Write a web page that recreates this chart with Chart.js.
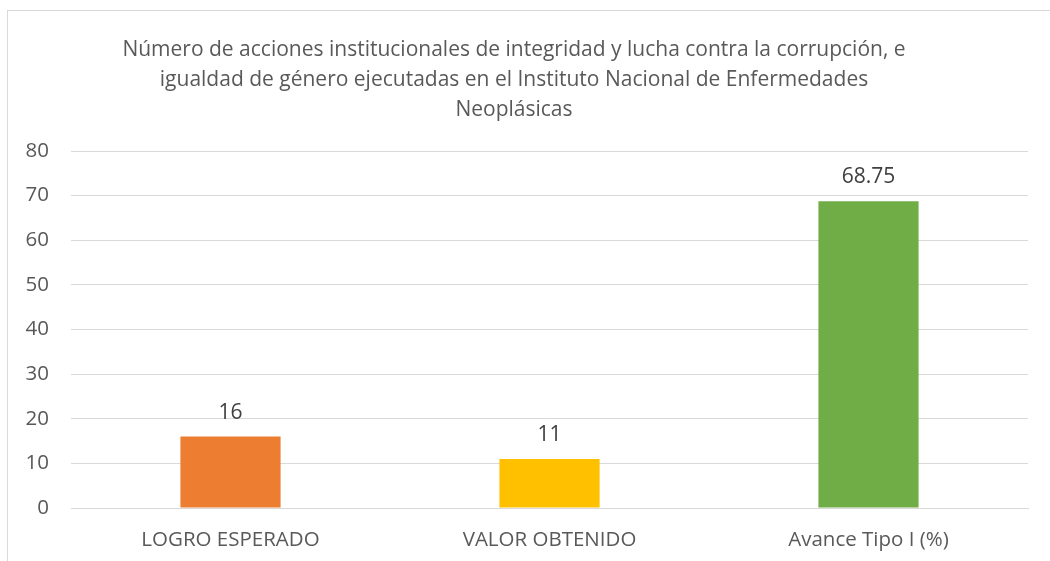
<!DOCTYPE html>
<html lang="es">
<head>
    <meta charset="UTF-8">
    <title>Acciones institucionales</title>
    <script src="https://cdn.jsdelivr.net/npm/chart.js"></script>
    <style>
        body { margin: 0; background: #fff; overflow: hidden; }
        #wrap { position: relative; width: 1050px; height: 561px; }
        #frame { position: absolute; left: 7px; top: 10px; width: 1100px; height: 600px; border: 1px solid #d9d9d9; box-sizing: border-box; }
        canvas { position: absolute; left: 0; top: 0; }
    </style>
</head>
<body>
    <div id="wrap">
        <div id="frame"></div>
        <canvas id="barChart" width="1050" height="561"></canvas>
    </div>

    <script>
        // Data
        const categories = ['LOGRO ESPERADO', 'VALOR OBTENIDO', 'Avance Tipo I (%)'];
        const values = [16, 11, 68.75];
        const barColors = ['#ED7D31', '#FFC000', '#70AD47'];
        const yTicks = [0, 10, 20, 30, 40, 50, 60, 70, 80];
        const titleLines = [
            'Número de acciones institucionales de integridad y lucha contra la corrupción, e',
            'igualdad de género ejecutadas en el Instituto Nacional de Enfermedades',
            'Neoplásicas'
        ];

        const fontFamily = '"Open Sans", sans-serif';

        // value labels above each bar
        const valueLabels = {
            id: 'valueLabels',
            afterDatasetsDraw(chart) {
                const ctx = chart.ctx;
                const meta = chart.getDatasetMeta(0);
                ctx.save();
                ctx.font = '21px ' + fontFamily;
                ctx.fillStyle = '#404040';
                ctx.textAlign = 'center';
                ctx.textBaseline = 'middle';
                meta.data.forEach((bar, i) => {
                    ctx.fillText(String(values[i]), bar.x, bar.y - 24);
                });
                ctx.restore();
            }
        };

        const ctx = document.getElementById('barChart').getContext('2d');
        const chart = new Chart(ctx, {
            type: 'bar',
            data: {
                labels: categories,
                datasets: [{
                    data: values,
                    backgroundColor: barColors,
                    barPercentage: 0.5,
                    categoryPercentage: 0.628
                }]
            },
            options: {
                responsive: false,
                animation: false,
                layout: {
                    padding: { top: 10, left: 0, right: 22, bottom: 0 }
                },
                plugins: {
                    legend: { display: false },
                    tooltip: { enabled: false },
                    title: {
                        display: true,
                        text: titleLines,
                        color: '#595959',
                        font: { family: fontFamily, size: 21, weight: 'normal', lineHeight: 30 / 21 },
                        padding: { top: 25, bottom: 26 }
                    }
                },
                scales: {
                    x: {
                        grid: { display: false },
                        border: { color: '#d9d9d9' },
                        ticks: {
                            color: '#595959',
                            font: { family: fontFamily, size: 20.5 },
                            padding: 12
                        },
                        afterFit: scale => { scale.height = 53; }
                    },
                    y: {
                        min: 0,
                        max: 80,
                        afterBuildTicks: scale => { scale.ticks = yTicks.map(v => ({ value: v })); },
                        grid: { color: '#d9d9d9', drawTicks: false },
                        border: { display: false },
                        ticks: {
                            color: '#595959',
                            font: { family: fontFamily, size: 20.5 },
                            padding: 22
                        },
                        afterFit: scale => { scale.width = 71; }
                    }
                }
            },
            plugins: [valueLabels]
        });
    </script>
</body>
</html>
